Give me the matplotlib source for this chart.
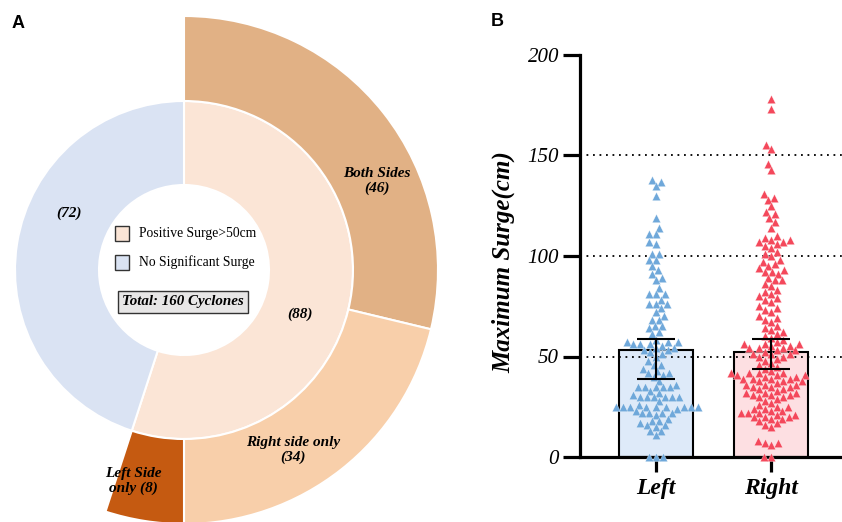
import matplotlib
matplotlib.use('Agg')
import matplotlib.pyplot as plt
from matplotlib.patches import Rectangle
import numpy as np

plt.rcParams['font.family'] = ['Liberation Serif', 'DejaVu Serif']

# ---- panel A data ----
inner_vals = [88, 72]
inner_cols = ['#FBE5D6', '#DAE3F3']
outer_vals = [46, 34, 8, 72]
outer_cols = ['#E1B185', '#F8CFAA', '#C55A11', 'none']
legend_labels = ['Positive Surge>50cm', 'No Significant Surge']
total_text = 'Total: 160 Cyclones'

# ---- panel B data ----
groups = ['Left', 'Right']
bar_vals = [53.3, 52.4]
err_lo = [38.8, 43.8]
err_hi = [58.6, 58.7]
bar_cols = ['#DEEAF9', '#FDDFE2']
pt_cols = ['#6FA8DA', '#F4485B']

left_pts = [138, 137, 135, 130, 119, 114, 111, 111, 107, 106, 101, 101, 98, 98, 95,
            93, 91, 89, 88, 84, 81, 81, 81, 78, 76, 76, 76, 74, 72, 70, 68, 68, 65,
            65, 64, 62, 61, 58, 57, 57, 57, 56, 56, 56, 55, 54, 54, 53, 53, 52, 51,
            50, 48, 46, 46, 44, 43, 42, 42, 41, 40, 38, 36, 35, 35, 35, 35, 35, 33,
            32, 31, 30, 30, 30, 30, 30, 30, 28, 26, 25, 25, 25, 25, 25, 25, 25, 25,
            25, 24, 23, 22, 22, 22, 22, 21, 19, 18, 18, 17, 16, 16, 15, 13, 13, 11,
            0, 0, 0]
right_pts = [178, 173, 155, 153, 146, 143, 131, 129, 128, 125, 122, 121, 119, 117,
             114, 110, 109, 108, 108, 107, 107, 106, 105, 104, 102, 101, 100, 98, 97,
             96, 95, 94, 93, 92, 92, 91, 89, 88, 88, 86, 85, 83, 82, 81, 80, 79, 78,
             77, 75, 74, 73, 72, 70, 69, 68, 67, 65, 64, 63, 62, 61, 60, 59, 58, 57,
             56, 56, 56, 55, 55, 54, 54, 54, 53, 53, 52, 51, 51, 51, 50, 50, 49, 48,
             47, 46, 45, 44, 43, 42, 42, 42, 42, 41, 41, 41, 40, 40, 39, 39, 39, 39,
             38, 38, 38, 37, 36, 36, 36, 35, 35, 35, 34, 34, 33, 32, 32, 32, 31, 31,
             31, 30, 30, 29, 28, 27, 26, 25, 25, 24, 24, 23, 23, 22, 22, 22, 21, 21,
             20, 20, 20, 19, 19, 18, 17, 16, 15, 8, 7, 7, 6, 0, 0]

fig = plt.figure(figsize=(8.42, 5.22), dpi=100)

# ================= A =================
axA = fig.add_axes([0, 0, 450 / 842, 1])
cx, cy = 184, 252
w_in, _ = axA.pie(inner_vals, radius=169, center=(cx, cy), startangle=90,
                  counterclock=False, colors=inner_cols,
                  wedgeprops=dict(width=84, edgecolor='white', linewidth=1.5))
w_out, _ = axA.pie(outer_vals, radius=254, center=(cx, cy), startangle=90,
                   counterclock=False, colors=outer_cols,
                   wedgeprops=dict(width=85, edgecolor='white', linewidth=1.5))
w_out[-1].set_visible(False)
axA.set_aspect('auto')
axA.set_xlim(0, 450)
axA.set_ylim(0, 522)
axA.axis('off')

lab = dict(fontsize=11, fontweight='bold', fontstyle='italic', ha='center',
           va='center', linespacing=1.2)
axA.text(377, 522 - 181, 'Both Sides\n(46)', **lab)
axA.text(69, 522 - 213, '(72)', **lab)
axA.text(300, 522 - 314, '(88)', **lab)
axA.text(293, 522 - 450, 'Right side only\n(34)', **lab)
axA.text(133, 522 - 481, 'Left Side\nonly (8)', **lab)

for i, (txt, c) in enumerate(zip(legend_labels, inner_cols)):
    yy = 522 - 241 - i * 29
    axA.add_patch(Rectangle((115, yy), 14, 15, facecolor=c, edgecolor='#333333',
                            linewidth=1))
    axA.text(139, yy + 7.5, txt, fontsize=9.8, va='center', ha='left')
axA.text(183, 522 - 302, total_text, fontsize=10.8, fontweight='bold',
         fontstyle='italic', ha='center', va='center',
         bbox=dict(boxstyle='square,pad=0.3', fc='#E7E6E6', ec='#333333', lw=1))

fig.text(18 / 842, 1 - 23 / 522, 'A', fontsize=13, fontweight='bold',
         family='Liberation Sans', va='center', ha='center')
fig.text(497 / 842, 1 - 22 / 522, 'B', fontsize=13, fontweight='bold',
         family='Liberation Sans', va='center', ha='center')

# ================= B =================
axB = fig.add_axes([580 / 842, 1 - 457 / 522, 262 / 842, 402 / 522])
axB.set_xlim(-0.66, 1.617)
axB.set_ylim(0, 200)
xs = np.arange(len(groups))

axB.bar(xs, bar_vals, width=0.64, color=bar_cols, edgecolor='black',
        linewidth=1.5, zorder=1)
for lv in [50, 100, 150]:
    axB.axhline(lv, color='black', linestyle=(0, (1, 2.6)), linewidth=1.3, zorder=2)

# simple beeswarm in pixel space
fig.canvas.draw()
px_x = axB.transData.transform([(1, 0)])[0][0] - axB.transData.transform([(0, 0)])[0][0]
px_y = axB.transData.transform([(0, 1)])[0][1] - axB.transData.transform([(0, 0)])[0][1]


def swarm(vals, d=6.8, step=0.5):
    ys = np.array(vals, float) * px_y
    placed = []
    offs = np.zeros(len(ys))
    for n, i in enumerate(np.argsort(ys)):
        k = 0
        sign = 1 if n % 2 == 0 else -1
        while True:
            found = None
            for s in ([0] if k == 0 else [sign, -sign]):
                xo = s * k * step
                ok = all((xo - px) ** 2 + (ys[i] - py) ** 2 >= d * d
                         for px, py in placed if abs(ys[i] - py) < d)
                if ok:
                    found = xo
                    break
            if found is not None:
                break
            k += 1
        offs[i] = found
        placed.append((found, ys[i]))
    return offs / px_x


for j, pts in enumerate([left_pts, right_pts]):
    off = swarm(pts)
    axB.scatter(xs[j] + off, pts, marker='^', s=36, color=pt_cols[j],
                edgecolors='white', linewidths=0.2, zorder=3, clip_on=False)

yerr = [np.array(bar_vals) - np.array(err_lo), np.array(err_hi) - np.array(bar_vals)]
axB.errorbar(xs, bar_vals, yerr=yerr, fmt='none', ecolor='black', elinewidth=1.5,
             capsize=13.5, capthick=1.5, zorder=4)

for s in ['top', 'right']:
    axB.spines[s].set_visible(False)
for s in ['left', 'bottom']:
    axB.spines[s].set_linewidth(2.3)
axB.set_yticks([0, 50, 100, 150, 200])
axB.set_yticklabels(['0', '50', '100', '150', '200'], fontsize=15, fontstyle='italic')
axB.set_xticks(xs)
axB.set_xticklabels(groups, fontsize=17, fontweight='bold', fontstyle='italic')
axB.tick_params(axis='y', length=12, width=2.3, pad=3)
axB.tick_params(axis='x', length=11, width=2.3, pad=4)
axB.set_ylabel('Maximum Surge(cm)', fontsize=18, fontweight='bold',
               fontstyle='italic')
axB.yaxis.set_label_coords(-0.248, 0.485)

fig.savefig('out.png', dpi=100)
